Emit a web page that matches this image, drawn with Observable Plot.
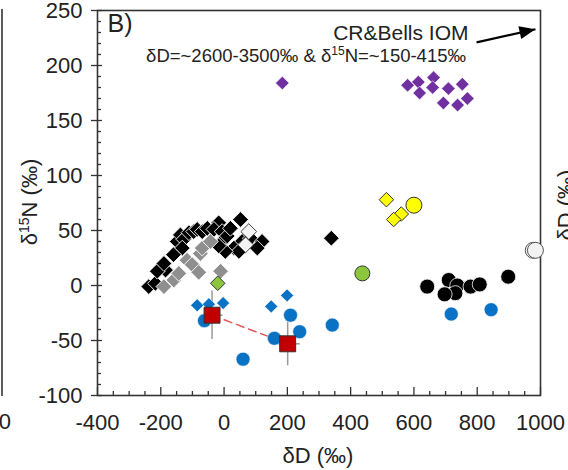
<!DOCTYPE html>
<html><head><meta charset="utf-8">
<script src="https://cdn.jsdelivr.net/npm/d3@7"></script>
<script src="https://cdn.jsdelivr.net/npm/@observablehq/plot@0.6"></script>
<style>
body{margin:0;background:#fff;}
svg{font-family:"Liberation Sans",Arial,sans-serif;}
</style></head><body><div id="chart"></div>
<script>
// ---- tick labels ----
const xMajor = [-400, -200, 0, 200, 400, 600, 800, 1000];
const yMajor = [-100, -50, 0, 50, 100, 150, 200, 250];
const xMinor = [-350,-300,-250,-150,-100,-50,50,100,150,250,300,350,450,500,550,650,700,750,850,900,950];
const yMinor = [-90,-80,-70,-60,-40,-30,-20,-10,10,20,30,40,60,70,80,90,110,120,130,140,160,170,180,190,210,220,230,240];

// ---- series ----
const blackDiaX = [-238,-217,-185,-211,-190,-148,-138,-127,-111,-96,-85,-69,-53,-17,-32,-6,-6,10,20,52,57,83,120,105,31,47,4,-17,-132,-160,339];
const blackDiaY = [-1,2,14,13,20,40,46,42,48,49,51,49,52,57,51,49,40,45,52,60,40,43,40,34,34,31,31,36,34,28,43];
const grayDiaX = [-190,-159,-143,-117,-101,-75,-69,-43,-11,-80];
const grayDiaY = [-1,5,11,23,19,29,34,40,13,12];
const whiteDiaX = [78,68];
const whiteDiaY = [49,37];
const greenDiaX = [-20];
const greenDiaY = [2];
const purpleDiaX = [580,614,618,662,659,709,753,693,738,769,184];
const purpleDiaY = [182,185,175,189,180,179,183,166,164,170,184];
const blueDiaX = [-85,-48,-3,149,199];
const blueDiaY = [-18,-17,-16,-19,-9];
const blueCircX = [-62,210,159,239,342,60,718,844];
const blueCircY = [-32,-27,-48,-42,-36,-67,-26,-22];
const blackCircX = [642,710,737,731,697,779,808,898];
const blackCircY = [-1,5,0,-7,-8,-1,1,8];
const redSqX = [-38,201];
const redSqY = [-27,-53];
const redSqXErr = [35,40];
const redSqYErr = [22,20];
const yellowDiaX = [513,560,536];
const yellowDiaY = [78,65,60];
const yellowCircX = [600];
const yellowCircY = [73];
const greenCircX = [437];
const greenCircY = [11];
const whiteCircX = [977,984];
const whiteCircY = [32,32];
// annotation arrow (CR & Bells IOM off-scale)
const arrowX1 = [798], arrowY1 = [221], arrowX2 = [984], arrowY2 = [233];

const pts = (xs, ys) => xs.map((x, i) => ({x, y: ys[i]}));
const redSq = redSqX.map((x, i) => ({x, y: redSqY[i], ex: redSqXErr[i], ey: redSqYErr[i]}));
const arrow = arrowX1.map((x1, i) => ({x1, y1: arrowY1[i], x2: arrowX2[i], y2: arrowY2[i]}));

// square rotated 45 degrees, area = size
const diamond = {draw(ctx, size) {const r = Math.sqrt(size / 2); ctx.moveTo(0, -r); ctx.lineTo(r, 0); ctx.lineTo(0, r); ctx.lineTo(-r, 0); ctx.closePath();}};
// arrow head pointing along the arrow (tip at origin)
const head = {draw(ctx) {const a = -12.5 * Math.PI / 180, ux = Math.cos(a), uy = Math.sin(a), nx = -uy, ny = ux, L = 16, w = 6.5;
  ctx.moveTo(0, 0); ctx.lineTo(-L*ux + w*nx, -L*uy + w*ny); ctx.lineTo(-L*ux - w*nx, -L*uy - w*ny); ctx.closePath();}};

const FS = 22;
const plot = Plot.plot({
  width: 568, height: 470,
  marginLeft: 97, marginRight: 28, marginTop: 10, marginBottom: 75,
  x: {domain: [-400, 1000]},
  y: {domain: [-100, 250]},
  style: {fontFamily: "Liberation Sans, Arial, sans-serif", background: "white", color: "#222", overflow: "visible"},
  marks: [
    // tick labels
    Plot.axisX({ticks: xMajor, tickSize: 0, tickPadding: 19, fontSize: FS, label: null, tickFormat: d => String(d)}),
    Plot.axisY({ticks: yMajor, tickSize: 0, tickPadding: 15, fontSize: FS, label: null, tickFormat: d => String(d)}),
    // inward ticks
    Plot.axisX({ticks: xMajor, tickSize: -8, tickFormat: () => "", label: null, stroke: "#333", strokeWidth: 1.3}),
    Plot.axisX({ticks: xMinor, tickSize: -4, tickFormat: () => "", label: null, stroke: "#333", strokeWidth: 1.3}),
    Plot.axisY({ticks: yMajor, tickSize: 6, tickFormat: () => "", label: null, stroke: "#333", strokeWidth: 1.3}),
    Plot.axisY({ticks: yMajor, tickSize: -5, tickFormat: () => "", label: null, stroke: "#333", strokeWidth: 1.3}),
    Plot.axisY({ticks: yMinor, tickSize: -4, tickFormat: () => "", label: null, stroke: "#333", strokeWidth: 1.3}),
    Plot.frame({stroke: "#333", strokeWidth: 1.6}),

    // error bars and tie line for red squares
    Plot.ruleX(redSq, {x: "x", y1: d => d.y - d.ey, y2: d => d.y + d.ey, stroke: "#999", strokeWidth: 1.5}),
    Plot.ruleY(redSq, {y: "y", x1: d => d.x - d.ex, x2: d => d.x + d.ex, stroke: "#999", strokeWidth: 1.5}),
    Plot.line(redSq, {x: "x", y: "y", stroke: "#e05555", strokeWidth: 1.5, strokeDasharray: "8,5"}),

    Plot.dot(pts(blueCircX, blueCircY), {x: "x", y: "y", r: 7, fill: "#0a72c4", stroke: "white", strokeWidth: 0.6}),
    Plot.dot(pts(blueDiaX, blueDiaY), {x: "x", y: "y", r: 5.2, symbol: diamond, fill: "#0a72c4", stroke: "white", strokeWidth: 0.6}),
    Plot.dot(pts(blackDiaX, blackDiaY), {x: "x", y: "y", r: 6.3, symbol: diamond, fill: "black", stroke: "white", strokeWidth: 0.9}),
    Plot.dot(pts(grayDiaX, grayDiaY), {x: "x", y: "y", r: 6.3, symbol: diamond, fill: "#8f8f8f", stroke: "white", strokeWidth: 0.9}),
    Plot.dot(pts(whiteDiaX, whiteDiaY), {x: "x", y: "y", r: 6.3, symbol: diamond, fill: "#f4f4f4", stroke: "#444", strokeWidth: 1}),
    Plot.dot(pts(greenDiaX, greenDiaY), {x: "x", y: "y", r: 5.8, symbol: diamond, fill: "#8cc63f", stroke: "#333", strokeWidth: 1}),
    Plot.dot(pts(purpleDiaX, purpleDiaY), {x: "x", y: "y", r: 5.4, symbol: diamond, fill: "#7030a0", stroke: "white", strokeWidth: 0.6}),
    Plot.dot(pts(blackCircX, blackCircY), {x: "x", y: "y", r: 7.5, fill: "black", stroke: "white", strokeWidth: 0.8}),
    Plot.dot(pts(yellowDiaX, yellowDiaY), {x: "x", y: "y", r: 5.8, symbol: diamond, fill: "#ffff00", stroke: "#333", strokeWidth: 1}),
    Plot.dot(pts(yellowCircX, yellowCircY), {x: "x", y: "y", r: 8, fill: "#ffff00", stroke: "#333", strokeWidth: 1}),
    Plot.dot(pts(greenCircX, greenCircY), {x: "x", y: "y", r: 7.5, fill: "#8cc63f", stroke: "#333", strokeWidth: 1}),
    Plot.dot(pts(whiteCircX, whiteCircY), {x: "x", y: "y", r: 8, fill: "#f2f2f2", stroke: "#555", strokeWidth: 1}),
    Plot.dot(redSq, {x: "x", y: "y", r: 9, symbol: "square", fill: "#c00000", stroke: "#333", strokeWidth: 1}),

    // annotation
    Plot.link(arrow, {x1: "x1", y1: "y1", x2: "x2", y2: "y2", stroke: "black", strokeWidth: 2.2}),
    Plot.dot(arrow, {x: "x2", y: "y2", symbol: head, fill: "black", stroke: "none"}),
    Plot.text(["B)"], {frameAnchor: "top-left", dx: 10, dy: 4, fontSize: 25, textAnchor: "start", fill: "#222"}),
    Plot.text(["CR&Bells IOM"], {frameAnchor: "top-right", dx: -72, dy: 15, fontSize: 21, textAnchor: "end", fill: "#222"})
  ]
});
document.getElementById("chart").appendChild(plot);

const svg = d3.select(plot);
// second annotation line with superscript
const t2 = svg.append("text").attr("x", 466).attr("y", 62).attr("text-anchor", "end").attr("font-size", 18.5).attr("fill", "#222");
t2.append("tspan").text("δD=~2600-3500‰ & δ");
t2.append("tspan").attr("dy", -7).attr("font-size", 12).text("15");
t2.append("tspan").attr("dy", 7).text("N=~150-415‰");
// axis titles
svg.append("text").attr("x", 318).attr("y", 463).attr("text-anchor", "middle").attr("font-size", FS).attr("fill", "#222").text("δD (‰)");
const yt = svg.append("text").attr("transform", "translate(37,202) rotate(-90)").attr("text-anchor", "middle").attr("font-size", FS).attr("fill", "#222");
yt.append("tspan").text("δ");
yt.append("tspan").attr("dy", -8).attr("font-size", 14).text("15");
yt.append("tspan").attr("dy", 8).text("N (‰)");
// neighbouring panels (cut off by the picture edges)
svg.append("line").attr("x1", 2).attr("x2", 2).attr("y1", 9).attr("y2", 396).attr("stroke", "#333").attr("stroke-width", 1.6);
svg.append("text").attr("x", 11).attr("y", 429).attr("text-anchor", "end").attr("font-size", FS).attr("fill", "#222").text("1000");
svg.append("text").attr("transform", "translate(573,205) rotate(-90)").attr("text-anchor", "middle").attr("font-size", FS).attr("fill", "#222").text("δD (‰)");
</script></body></html>
